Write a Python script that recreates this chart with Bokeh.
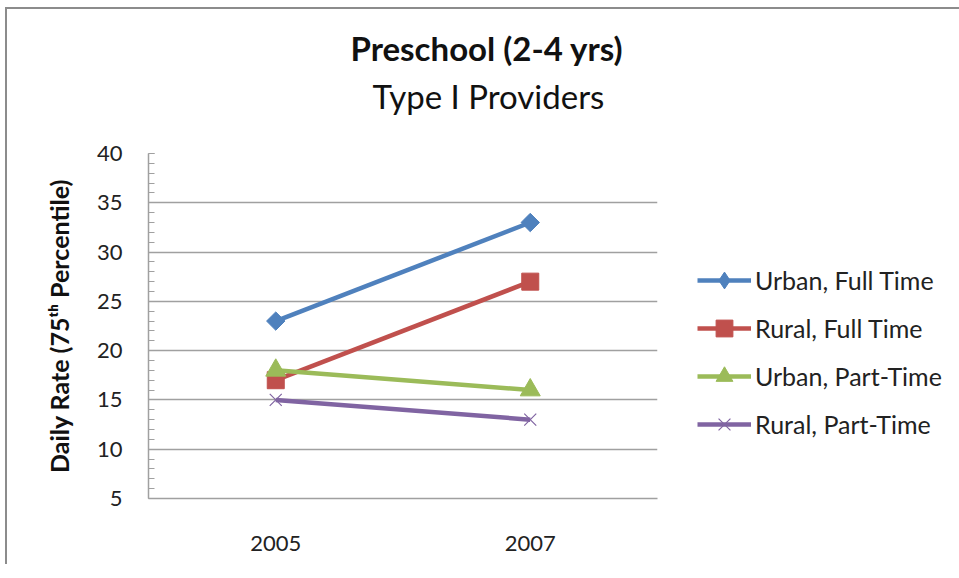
import math
from bokeh.plotting import figure
from bokeh.models import FactorRange, Legend, LegendItem, Range1d, FixedTicker, Title
from bokeh.embed import file_html
from bokeh.resources import INLINE

years = ["2005", "2007"]
urban_full = [23, 33]
rural_full = [17, 27]
urban_part = [18, 16]
rural_part = [15, 13]
series_names = ["Urban, Full Time", "Rural, Full Time", "Urban, Part-Time", "Rural, Part-Time"]
y_ticks = [5, 10, 15, 20, 25, 30, 35, 40]

FONT = "Lato"
colors = ["#4F81BD", "#C0504D", "#9BBB59", "#8064A2"]

p = figure(frame_width=509, frame_height=345, x_range=FactorRange(factors=years, range_padding=0),
           y_range=Range1d(5, 40), output_backend="svg", toolbar_location=None,
           min_border_left=141, min_border_right=286, min_border_top=144, min_border_bottom=66)
p.outline_line_color = None
p.border_fill_color = "white"
p.styles = {"border-left": "2px solid #8C8C8C", "border-top": "2px solid #8C8C8C",
            "margin-left": "5px", "margin-top": "7px"}

# axes
p.yaxis.ticker = FixedTicker(ticks=y_ticks, minor_ticks=list(range(5, 41)))
p.yaxis.axis_line_color = "#A0A0A0"
p.yaxis.axis_line_width = 1.5
p.yaxis.major_tick_line_color = "#A0A0A0"
p.yaxis.major_tick_in = 6
p.yaxis.major_tick_out = 0
p.yaxis.minor_tick_line_color = "#A0A0A0"
p.yaxis.minor_tick_in = 6
p.yaxis.minor_tick_out = 0
p.yaxis.major_label_text_font = FONT
p.yaxis.major_label_text_font_size = "22px"
p.yaxis.major_label_text_color = "#222222"
p.yaxis.major_label_standoff = 26
p.yaxis.axis_label = "Daily Rate (75ᵗʰ Percentile)"
p.yaxis.axis_label_text_font = FONT
p.yaxis.axis_label_text_font_size = "25px"
p.yaxis.axis_label_text_font_style = "bold"
p.yaxis.axis_label_text_color = "#111111"
p.yaxis.axis_label_standoff = 20

p.xaxis.axis_line_color = "#A0A0A0"
p.xaxis.axis_line_width = 1.5
p.xaxis.major_tick_line_color = None
p.xaxis.minor_tick_line_color = None
p.xaxis.major_label_text_font = FONT
p.xaxis.major_label_text_font_size = "22px"
p.xaxis.major_label_text_color = "#222222"
p.xaxis.major_label_standoff = 31

p.xgrid.grid_line_color = None
p.ygrid.grid_line_color = "#A0A0A0"
p.ygrid.grid_line_width = 1.5

items = []
data = [urban_full, rural_full, urban_part, rural_part]
for i, (name, vals, c) in enumerate(zip(series_names, data, colors)):
    r_line = p.line(years, vals, line_color=c, line_width=4.5)
    rs = [r_line]
    if i == 0:
        p.scatter(years, vals, marker="square", angle=math.pi / 4, size=13, fill_color=c, line_color=c)
        # zero-size diamond so the legend shows a diamond shape
        rs.append(p.scatter(years, vals, marker="diamond", size=0, fill_color=c, line_color=c))
    elif i == 1:
        rs.append(p.scatter(years, vals, marker="square", size=17, fill_color=c, line_color=c))
    elif i == 2:
        rs.append(p.scatter(years, vals, marker="triangle", size=20, fill_color=c, line_color=c))
    else:
        rs.append(p.scatter(years, vals, marker="x", size=17, line_color=c, line_width=1.2))
    items.append(LegendItem(label=name, renderers=rs))

legend = Legend(items=items, location=(40, 53), border_line_color=None,
                background_fill_alpha=0, label_text_font=FONT, label_text_font_size="25px",
                label_text_color="#222222", glyph_width=54, glyph_height=42, spacing=6,
                padding=0, margin=0, label_standoff=4)
p.add_layout(legend, "right")

sub = Title(text="Type I Providers", text_font=FONT, text_font_size="33px",
            text_font_style="normal", align="left", offset=224, standoff=76, text_color="#111111")
ttl = Title(text="Preschool (2-4 yrs)", text_font=FONT, text_font_size="33px",
            text_font_style="bold", align="left", offset=202, standoff=-64, text_color="#111111")
p.add_layout(sub, "above")
p.add_layout(ttl, "above")

open("out.html", "w").write(file_html(p, INLINE))
